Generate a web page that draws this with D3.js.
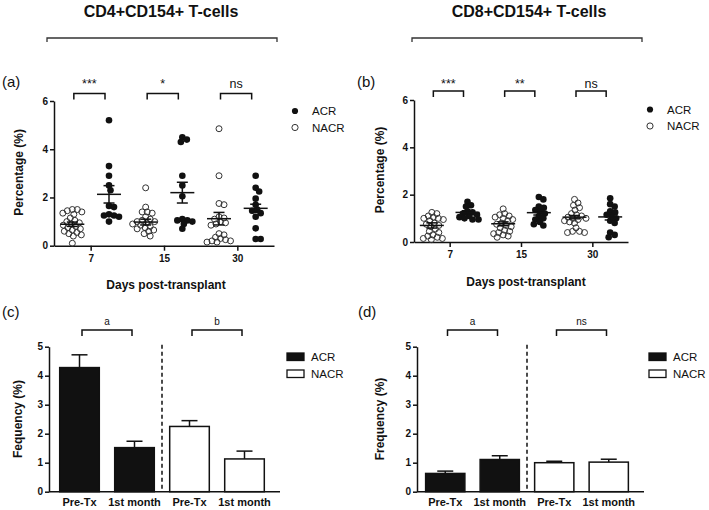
<!DOCTYPE html>
<html><head><meta charset="utf-8">
<script src="https://cdn.jsdelivr.net/npm/d3@7"></script>
<style>
body{margin:0;background:#fff;}
svg text{font-family:Arial,"Liberation Sans",sans-serif;fill:#111;}
</style>
</head><body>
<svg id="chart" width="709" height="510"></svg>
<script>
// ---------------- DATA ----------------
const days = ["7", "15", "30"];
const seriesNames = ["ACR", "NACR"];

// Panel (a) CD4+CD154+ individual values (%), per day 7 / 15 / 30
const cd4NACR = [
  [1.5, 1.5, 1.45, 1.4, 1.35, 1.3, 1.15, 1.05, 1.0, 0.95, 0.9, 0.85, 0.8, 0.75, 0.7, 0.65, 0.6, 0.55, 0.5, 0.45, 0.4, 0.1],
  [2.4, 1.6, 1.4, 1.4, 1.35, 1.2, 1.1, 1.05, 1.0, 1.0, 0.95, 0.9, 0.85, 0.8, 0.75, 0.7, 0.65, 0.6, 0.5, 0.4],
  [4.85, 2.9, 1.75, 1.7, 1.2, 1.15, 1.1, 1.0, 0.95, 0.9, 0.85, 0.5, 0.45, 0.35, 0.3, 0.25, 0.2, 0.2, 0.15, 0.15]
];
const cd4ACR = [
  [5.2, 3.3, 2.9, 2.5, 2.3, 1.65, 1.6, 1.3, 1.25, 1.25, 1.2, 1.0],
  [4.5, 4.4, 4.3, 2.9, 2.5, 2.05, 1.1, 1.05, 1.05, 1.0, 0.9, 0.7],
  [2.9, 2.4, 2.25, 1.95, 1.7, 1.5, 1.45, 1.35, 1.2, 0.72, 0.28, 0.28]
];
const cd4NACRMean = [0.89, 0.98, 1.12];
const cd4NACRSem  = [0.09, 0.12, 0.26];
const cd4ACRMean  = [2.13, 2.2, 1.55];
const cd4ACRSem   = [0.36, 0.43, 0.17];
const cd4Stars = ["***", "*", "ns"];

// Panel (b) CD8+CD154+ individual values (%)
const cd8NACR = [
  [1.25, 1.2, 1.1, 1.05, 1.0, 1.0, 0.95, 0.9, 0.8, 0.75, 0.7, 0.65, 0.55, 0.45, 0.4, 0.3, 0.25, 0.2, 0.15, 0.15, 0.1],
  [1.4, 1.2, 1.15, 1.1, 1.05, 1.0, 0.95, 0.9, 0.8, 0.75, 0.7, 0.65, 0.6, 0.5, 0.45, 0.4, 0.35, 0.3, 0.25, 0.2],
  [1.8, 1.65, 1.55, 1.45, 1.35, 1.2, 1.15, 1.1, 1.05, 1.0, 1.0, 0.95, 0.9, 0.85, 0.8, 0.6, 0.45, 0.45, 0.4, 0.4]
];
const cd8ACR = [
  [1.7, 1.55, 1.5, 1.3, 1.25, 1.2, 1.15, 1.1, 1.05, 1.0, 0.95, 0.95],
  [1.9, 1.8, 1.5, 1.45, 1.35, 1.3, 1.2, 1.1, 1.0, 0.95, 0.85, 0.75, 0.7],
  [1.85, 1.6, 1.5, 1.3, 1.25, 1.15, 1.1, 1.0, 0.9, 0.8, 0.4, 0.3, 0.2]
];
const cd8NACRMean = [0.7, 0.77, 1.05];
const cd8NACRSem  = [0.11, 0.08, 0.07];
const cd8ACRMean  = [1.25, 1.24, 1.06];
const cd8ACRSem   = [0.07, 0.1, 0.13];
const cd8Stars = ["***", "**", "ns"];

// Panels (c),(d) bar charts
const barGroup  = ["ACR", "ACR", "NACR", "NACR"];
const barLabels = ["Pre-Tx", "1st month", "Pre-Tx", "1st month"];
const cd4Freq    = [4.28, 1.52, 2.25, 1.13];
const cd4FreqSem = [0.44, 0.22, 0.2, 0.27];
const cd4BarStats = ["a", "b"];
const cd8Freq    = [0.63, 1.11, 1.0, 1.02];
const cd8FreqSem = [0.08, 0.13, 0.05, 0.1];
const cd8BarStats = ["a", "ns"];

// ---------------- DRAWING ----------------
const svg = d3.select("#chart");
const INK = "#111";

function styleAxis(g, fontSize) {
  g.selectAll("path,line").attr("stroke", INK).attr("stroke-width", 1.5);
  g.selectAll("text").attr("font-size", fontSize).attr("font-weight", "bold")
    .attr("font-family", "Arial, 'Liberation Sans', sans-serif").attr("fill", INK);
}

function swarm(vals, cx, y, r) {
  const sep = r * 1.5;
  const placed = [];
  const sorted = vals.slice().sort((a, b) => b - a);
  for (const v of sorted) {
    const py = y(v);
    let px = cx;
    for (let k = 0; k < 400; k++) {
      const off = k === 0 ? 0 : (k % 2 ? 1 : -1) * Math.ceil(k / 2) * 0.5;
      const cand = cx + off;
      if (placed.every(p => Math.hypot(p.x - cand, p.y - py) >= sep)) { px = cand; break; }
    }
    placed.push({ x: px, y: py, v });
  }
  return placed;
}

function bracket(g, x1, x2, yTop, drop, label, labelY, fs) {
  g.append("path")
    .attr("d", `M${x1},${yTop + drop}V${yTop}H${x2}V${yTop + drop}`)
    .attr("fill", "none").attr("stroke", INK).attr("stroke-width", 1.5);
  if (label != null) {
    g.append("text").attr("x", (x1 + x2) / 2).attr("y", labelY)
      .attr("text-anchor", "middle").attr("font-size", fs).text(label);
  }
}

function scatterPanel(c) {
  const g = svg.append("g");
  const x = d3.scaleLinear().domain([-0.5, 5.5]).range(c.xr);
  const y = d3.scaleLinear().domain([0, 6]).range(c.yr);

  // title and overall bracket
  g.append("text").attr("x", c.titleX).attr("y", 17).attr("text-anchor", "middle")
    .attr("font-size", 16).attr("font-weight", "bold").text(c.title);
  g.append("path").attr("d", `M${c.bigBr[0]},42V38H${c.bigBr[1]}V42`)
    .attr("fill", "none").attr("stroke", "#333").attr("stroke-width", 1.3);

  g.append("text").attr("x", c.labX).attr("y", 87).attr("font-size", 15).text(c.panel);

  const ya = g.append("g").attr("transform", `translate(${c.xr[0]},0)`)
    .call(d3.axisLeft(y).tickValues([0, 2, 4, 6]).tickFormat(d3.format("d"))
      .tickSize(4).tickPadding(2).tickSizeOuter(0));
  styleAxis(ya, 10);
  const xa = g.append("g").attr("transform", `translate(0,${c.yr[0]})`)
    .call(d3.axisBottom(x).tickValues([0.5, 2.5, 4.5]).tickFormat((d, i) => days[i])
      .tickSize(5).tickPadding(4).tickSizeOuter(0));
  styleAxis(xa, 10);

  g.append("text").attr("transform", `translate(${c.ylabX},${(c.yr[0] + c.yr[1]) / 2 - 1}) rotate(-90)`)
    .attr("text-anchor", "middle").attr("font-size", 12).attr("font-weight", "bold").text("Percentage (%)");
  g.append("text").attr("x", c.xlabX).attr("y", c.xlabY).attr("text-anchor", "middle")
    .attr("font-size", 12).attr("font-weight", "bold").text("Days post-transplant");

  const r = 3.3;
  days.forEach((d, i) => {
    const groups = [
      { vals: c.nacr[i], mean: c.nacrMean[i], sem: c.nacrSem[i], xi: 2 * i, filled: false },
      { vals: c.acr[i], mean: c.acrMean[i], sem: c.acrSem[i], xi: 2 * i + 1, filled: true }
    ];
    groups.forEach(gr => {
      const cx = x(gr.xi);
      const pts = swarm(gr.vals, cx, y, r);
      g.append("g").selectAll("circle").data(pts).join("circle")
        .attr("cx", p => p.x).attr("cy", p => p.y).attr("r", gr.filled ? r : r - 0.3)
        .attr("fill", gr.filled ? INK : "none")
        .attr("stroke", gr.filled ? "none" : "#333").attr("stroke-width", 1);
      // mean + SEM
      const m = g.append("g").attr("stroke", INK).attr("stroke-width", 1.5);
      m.append("line").attr("x1", cx - 12).attr("x2", cx + 12).attr("y1", y(gr.mean)).attr("y2", y(gr.mean));
      m.append("line").attr("x1", cx).attr("x2", cx).attr("y1", y(gr.mean - gr.sem)).attr("y2", y(gr.mean + gr.sem));
      [gr.mean - gr.sem, gr.mean + gr.sem].forEach(v =>
        m.append("line").attr("x1", cx - 5.5).attr("x2", cx + 5.5).attr("y1", y(v)).attr("y2", y(v)));
    });
    bracket(g, x(2 * i) + 1.5, x(2 * i + 1) - 4, c.brY, 6, c.stars[i], 87.5, 12.5);
  });

  // legend
  const lg = g.append("g");
  seriesNames.forEach((s, i) => {
    const yy = c.legY + i * 16.5;
    lg.append("circle").attr("cx", c.legX).attr("cy", yy).attr("r", 3.1)
      .attr("fill", i === 0 ? INK : "none").attr("stroke", i === 0 ? "none" : "#333").attr("stroke-width", 1);
    lg.append("text").attr("x", c.legX + 17).attr("y", yy + 4.2).attr("font-size", 11.5).text(s);
  });
}

function barPanel(c) {
  const g = svg.append("g");
  const x = d3.scaleBand().domain(d3.range(barLabels.length)).range(c.xr).paddingInner(0.28).paddingOuter(0.14);
  const y = d3.scaleLinear().domain([0, 5]).range([491.7, 346.7]);

  g.append("text").attr("x", c.labX).attr("y", 317).attr("font-size", 15).text(c.panel);

  // dashed separator
  const sepX = (x(1) + x.bandwidth() + x(2)) / 2;
  g.append("line").attr("x1", sepX).attr("x2", sepX).attr("y1", y(5) - 2).attr("y2", y(0))
    .attr("stroke", INK).attr("stroke-width", 1.5).attr("stroke-dasharray", "4,3");

  // bars
  c.vals.forEach((v, i) => {
    const cx = x(i) + x.bandwidth() / 2;
    g.append("line").attr("x1", cx).attr("x2", cx).attr("y1", y(v)).attr("y2", y(v + c.sem[i]))
      .attr("stroke", INK).attr("stroke-width", 1.5);
    g.append("line").attr("x1", cx - 8).attr("x2", cx + 8).attr("y1", y(v + c.sem[i])).attr("y2", y(v + c.sem[i]))
      .attr("stroke", INK).attr("stroke-width", 1.5);
    g.append("rect").attr("x", x(i)).attr("width", x.bandwidth()).attr("y", y(v)).attr("height", y(0) - y(v))
      .attr("fill", barGroup[i] === "ACR" ? INK : "#fff").attr("stroke", INK).attr("stroke-width", 1.5);
  });

  const ya = g.append("g").attr("transform", `translate(${c.axisX},0)`)
    .call(d3.axisLeft(y).tickValues([0, 1, 2, 3, 4, 5]).tickFormat(d3.format("d"))
      .tickSize(4).tickPadding(2).tickSizeOuter(0));
  styleAxis(ya, 10);
  const xa = g.append("g").attr("transform", `translate(0,${y(0)})`)
    .call(d3.axisBottom(x).tickFormat(i => barLabels[i]).tickSize(0).tickPadding(7));
  styleAxis(xa, 11);
  xa.select(".domain").remove();
  g.append("line").attr("x1", c.axisX).attr("x2", c.xr[1] + 8).attr("y1", y(0)).attr("y2", y(0))
    .attr("stroke", INK).attr("stroke-width", 1.5);

  g.append("text").attr("transform", `translate(${c.ylabX},419) rotate(-90)`)
    .attr("text-anchor", "middle").attr("font-size", 12).attr("font-weight", "bold").text(c.ylab);

  // significance brackets
  [0, 2].forEach((i, k) => {
    const mid = (x(i) + x(i + 1) + x.bandwidth()) / 2;
    bracket(g, mid - 25, mid + 25, 330, 6, c.stats[k], 325, 10);
  });

  // legend
  seriesNames.forEach((s, i) => {
    const yy = 353 + i * 17;
    g.append("rect").attr("x", c.legX).attr("y", yy).attr("width", 17).attr("height", 7.5)
      .attr("fill", i === 0 ? INK : "#fff").attr("stroke", INK).attr("stroke-width", 1.3);
    g.append("text").attr("x", c.legX + 24).attr("y", yy + 8.3).attr("font-size", 11.5).text(s);
  });
}

scatterPanel({
  title: "CD4+CD154+ T-cells", titleX: 161, bigBr: [47, 277], panel: "(a)", labX: 2,
  xr: [54, 274], yr: [245.7, 101], nacr: cd4NACR, acr: cd4ACR,
  nacrMean: cd4NACRMean, nacrSem: cd4NACRSem, acrMean: cd4ACRMean, acrSem: cd4ACRSem,
  stars: cd4Stars, brY: 93.5, ylabX: 23, xlabX: 166, xlabY: 288.5, legX: 295, legY: 111
});
scatterPanel({
  title: "CD8+CD154+ T-cells", titleX: 529, bigBr: [412, 642], panel: "(b)", labX: 357,
  xr: [414, 628], yr: [242, 100], nacr: cd8NACR, acr: cd8ACR,
  nacrMean: cd8NACRMean, nacrSem: cd8NACRSem, acrMean: cd8ACRMean, acrSem: cd8ACRSem,
  stars: cd8Stars, brY: 91, ylabX: 384, xlabX: 526, xlabY: 285.5, legX: 650, legY: 109.5
});
barPanel({
  panel: "(c)", labX: 2, xr: [52, 272], axisX: 49, vals: cd4Freq, sem: cd4FreqSem,
  stats: cd4BarStats, ylab: "Fequency (%)", ylabX: 22, legX: 287
});
barPanel({
  panel: "(d)", labX: 358, xr: [418, 636], axisX: 417, vals: cd8Freq, sem: cd8FreqSem,
  stats: cd8BarStats, ylab: "Frequency (%)", ylabX: 384, legX: 649
});
</script>
</body></html>
